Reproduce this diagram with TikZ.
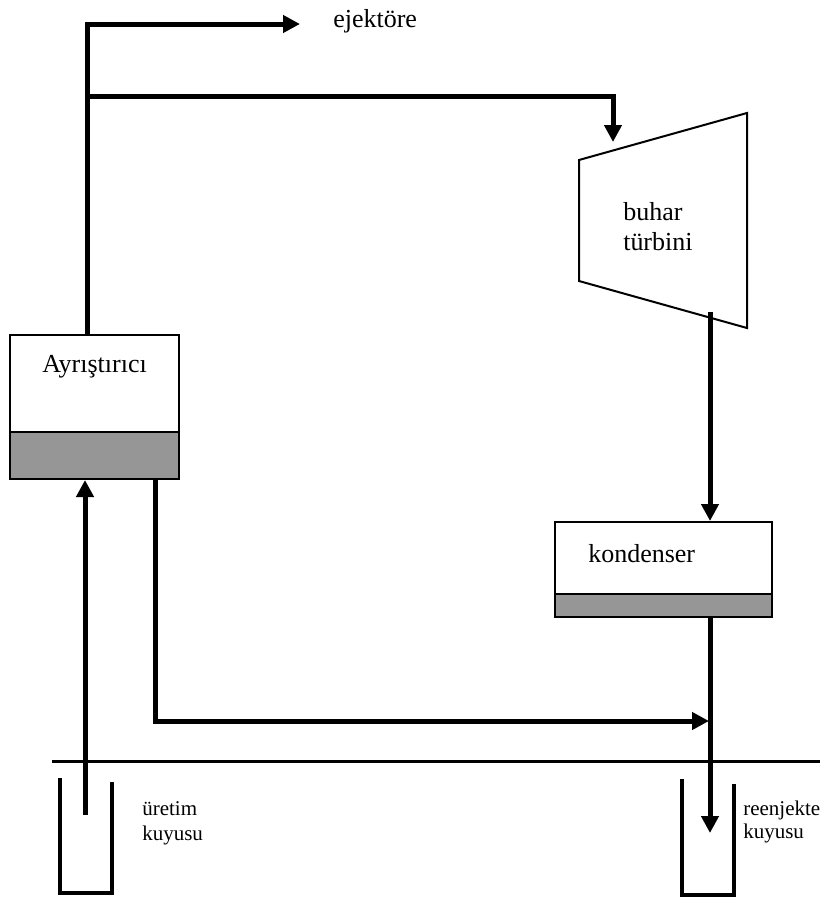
\documentclass[tikz,border=0pt]{standalone}
\usepackage{fontspec}
\setmainfont{Liberation Serif}
\usetikzlibrary{arrows.meta}
\definecolor{liq}{RGB}{150,150,150}
\begin{document}
\begin{tikzpicture}[x=0.75pt,y=-0.75pt,
  pipe/.style={line width=3.75pt},
  flow/.style={pipe,-{Triangle[length=12.75pt,width=12.75pt]}},
  vessel/.style={draw,line width=1.5pt,rectangle,inner sep=0pt,fill=white},
  liquid/.style={vessel,fill=liq},
  biglabel/.style={font=\fontsize{19.5}{22.5}\selectfont,inner sep=0pt,anchor=base west},
  smalllabel/.style={font=\fontsize{15.75}{20}\selectfont,inner sep=0pt,anchor=base west},
  wall/.style={line width=3pt},
  groundline/.style={line width=2.25pt},
  outline/.style={line width=1.5pt,line join=miter}]
\useasboundingbox (0,0) rectangle (822,897);

% ground
\coordinate (g1) at (52,761);
\coordinate (g2) at (820,761);
\draw[groundline] (g1) -- (g2);

% wells
\draw[wall] (60,778) |- (112,893) -- (112,782);
\draw[wall] (682,779) |- (734,895) -- (734,784);

% separator
\node[vessel, minimum width=126.75pt, minimum height=72.75pt] (sep) at (94.5,383.5) {};
\node[liquid, minimum width=126.75pt, minimum height=35.25pt] (sepbot) at (94.5,455.5) {};
\node[biglabel, anchor=base] (seplabel) at (94.5,372) {Ayrıştırıcı};

% condenser
\node[vessel, minimum width=162.75pt, minimum height=54pt] (cond) at (663.5,558) {};
\node[liquid, minimum width=162.75pt, minimum height=17.25pt] (condbot) at (663.5,605.5) {};
\node[biglabel] (condlabel) at (588,562) {kondenser};

% turbine
\coordinate (t1) at (579,160);
\coordinate (t2) at (747,113);
\coordinate (t3) at (747,328);
\coordinate (t4) at (579,281);
\draw[outline] (t1) -- (t2) -- (t3) -- (t4) -- cycle;
\node[biglabel] (turblabel1) at (623,220) {buhar};
\node[biglabel] (turblabel2) at (623,250) {türbini};

% connector points
\coordinate (riser) at (87,96);
\coordinate (ej) at (300,24);
\coordinate (turbin) at (613,142);
\coordinate (turbout) at (710,312);
\coordinate (rwell) at (710,833);
\coordinate (brx) at (155,721);
\coordinate (mix) at (709,721);
\coordinate (pwell) at (85,815);

% pipes
\draw[flow] (sep.north -| riser) |- (ej);
\draw[flow] (riser) -| (turbin);
\draw[flow] (turbout) -- (cond.north -| turbout);
\draw[flow] (condbot.south -| turbout) -- (rwell);
\draw[flow] (sepbot.south -| brx) |- (mix);
\draw[flow] (pwell) -- (sepbot.south -| pwell);

% labels
\node[biglabel] (ejlabel) at (333,27) {ejektöre};
\node[smalllabel] (pw1) at (142,815) {üretim};
\node[smalllabel] (pw2) at (142,840) {kuyusu};
\node[smalllabel] (rw1) at (743,815) {reenjekte};
\node[smalllabel] (rw2) at (743,838) {kuyusu};
\end{tikzpicture}
\end{document}
